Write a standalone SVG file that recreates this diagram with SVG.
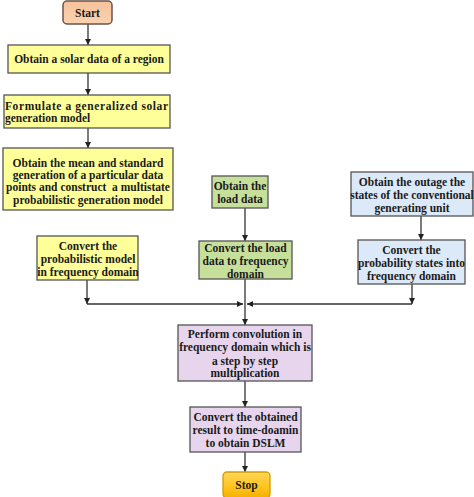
<svg xmlns="http://www.w3.org/2000/svg" width="474" height="497" viewBox="0 0 474 497">
<style>
text{font-family:"Liberation Serif","Times New Roman",serif;font-weight:bold;font-size:11.5px;fill:#1a1a1a;text-anchor:middle}
.box{stroke:#555;stroke-width:1.3}
.y{fill:#ffff99}
.g{fill:#c6e09c}
.b{fill:#dce9f9}
.p{fill:#e6d5ec}
.ln{stroke:#333;stroke-width:1.3;fill:none}
</style>
<defs>
<marker id="ah" viewBox="0 0 10 10" refX="10" refY="5" markerWidth="6" markerHeight="6" markerUnits="userSpaceOnUse" orient="auto">
<path d="M0,0 L10,5 L0,10 z" fill="#222"/>
</marker>
<linearGradient id="gs" x1="0" y1="0" x2="0" y2="1">
<stop offset="0" stop-color="#f6c29a"/><stop offset="1" stop-color="#fbd2b0"/>
</linearGradient>
<linearGradient id="go" x1="0" y1="0" x2="0" y2="1">
<stop offset="0" stop-color="#ffd75a"/><stop offset="0.6" stop-color="#ffc21c"/><stop offset="1" stop-color="#f5b000"/>
</linearGradient>
</defs>
<g id="connectors">
<line class="ln" x1="88" y1="24" x2="88" y2="45" marker-end="url(#ah)"/>
<line class="ln" x1="88" y1="73" x2="88" y2="95" marker-end="url(#ah)"/>
<line class="ln" x1="88" y1="128" x2="88" y2="148" marker-end="url(#ah)"/>
<line class="ln" x1="245" y1="208" x2="245" y2="241" marker-end="url(#ah)"/>
<line class="ln" x1="421" y1="216" x2="421" y2="240" marker-end="url(#ah)"/>
<line class="ln" x1="87" y1="280" x2="87" y2="304" marker-end="url(#ah)"/>
<line class="ln" x1="412" y1="284" x2="412" y2="304" marker-end="url(#ah)"/>
<line class="ln" x1="87" y1="304" x2="243" y2="304" marker-end="url(#ah)"/>
<line class="ln" x1="412" y1="304" x2="247" y2="304" marker-end="url(#ah)"/>
<line class="ln" x1="245" y1="279" x2="245" y2="325" marker-end="url(#ah)"/>
<line class="ln" x1="245" y1="381" x2="245" y2="407" marker-end="url(#ah)"/>
<line class="ln" x1="245" y1="452" x2="245" y2="472" marker-end="url(#ah)"/>
</g>
<g id="start">
<rect x="63" y="1" width="49" height="23" rx="4" fill="url(#gs)" stroke="#6b5448" stroke-width="1.5"/>
<text x="87.5" y="17">Start</text>
</g>
<g id="solar-data">
<rect class="box y" x="8" y="45" width="162" height="28"/>
<text x="89" y="63">Obtain a solar data of a region</text>
</g>
<g id="formulate">
<rect class="box y" x="4" y="95" width="166" height="33"/>
<text x="5" y="110" style="text-anchor:start" textLength="163" lengthAdjust="spacing">Formulate a generalized solar</text>
<text x="5" y="122" style="text-anchor:start">generation model</text>
</g>
<g id="mean-std">
<rect class="box y" x="3" y="148" width="170" height="62"/>
<text x="88" y="167">Obtain the mean and standard</text>
<text x="88" y="179">generation of a particular data</text>
<text x="88" y="191">points and construct&#160; a multistate</text>
<text x="88" y="204">probabilistic generation model</text>
</g>
<g id="convert-prob">
<rect class="box y" x="37" y="236" width="101" height="44"/>
<text x="88" y="250">Convert the</text>
<text x="88" y="263">probabilistic model</text>
<text x="88" y="276">in frequency domain</text>
</g>
<g id="load-data">
<rect class="box g" x="212" y="176" width="56" height="32"/>
<text x="240" y="190">Obtain the</text>
<text x="240" y="203">load data</text>
</g>
<g id="convert-load">
<rect class="box g" x="199" y="241" width="93" height="38"/>
<text x="245.5" y="252">Convert the load</text>
<text x="245.5" y="265">data to frequency</text>
<text x="245.5" y="278">domain</text>
</g>
<g id="outage">
<rect class="box b" x="351" y="172" width="122" height="44"/>
<text x="412" y="186">Obtain the outage the</text>
<text x="412" y="199">states of the conventional</text>
<text x="412" y="212">generating unit</text>
</g>
<g id="convert-states">
<rect class="box b" x="358" y="240" width="107" height="44"/>
<text x="411.5" y="254">Convert the</text>
<text x="411.5" y="267">probability states into</text>
<text x="411.5" y="280">frequency domain</text>
</g>
<g id="convolution">
<rect class="box p" x="178" y="325" width="134" height="56"/>
<text x="245" y="338">Perform convolution in</text>
<text x="245" y="351">frequency domain which is</text>
<text x="245" y="365">a step by step</text>
<text x="245" y="377">multiplication</text>
</g>
<g id="convert-time">
<rect class="box p" x="190" y="407" width="111" height="45"/>
<text x="245.5" y="421">Convert the obtained</text>
<text x="245.5" y="434">result to time-doamin</text>
<text x="245.5" y="447">to obtain DSLM</text>
</g>
<g id="stop">
<rect x="223" y="472" width="47" height="26" rx="4" fill="url(#go)" stroke="#d49a00" stroke-width="1.3"/>
<text x="246.5" y="489">Stop</text>
</g>
</svg>
